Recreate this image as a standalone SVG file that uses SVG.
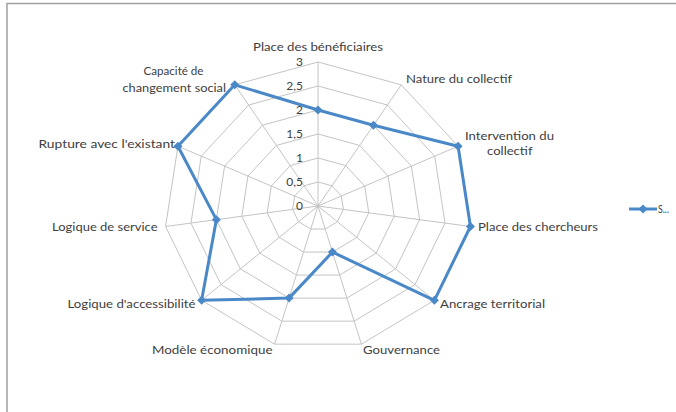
<svg xmlns="http://www.w3.org/2000/svg" xmlns:xlink="http://www.w3.org/1999/xlink" width="676" height="412" viewBox="0 0 676 412">
<style>
.lbl{font-family:Lato,"Liberation Sans",sans-serif;font-size:11.5px;fill:#404040}
.tick{font-family:Lato,"Liberation Sans",sans-serif;font-size:12px;fill:#404040;text-anchor:end}
.grid{fill:none;stroke:#c4c4c4;stroke-width:1;vector-effect:non-scaling-stroke}
.series{fill:none;stroke:#4a88c8;stroke-width:3;stroke-linejoin:round}
</style>
<defs>
<polygon id="ring" class="grid" points="0,-144 83.25,-121.15 140.08,-59.82 152.43,20.49 116.38,94.31 43.38,138.17 -43.38,138.17 -116.38,94.31 -152.43,20.49 -140.08,-59.82 -83.25,-121.15"/>
<marker id="dia" markerUnits="userSpaceOnUse" markerWidth="12" markerHeight="12" refX="6" refY="6" orient="0" overflow="visible">
<polygon points="6,1.5 10.5,6 6,10.5 1.5,6" fill="#4a88c8"/>
</marker>
</defs>
<rect x="0" y="0" width="676" height="412" fill="#ffffff"/>
<path d="M7,412 V3.5 H676" fill="none" stroke="#a0a0a0" stroke-width="1.5"/>
<g id="grid" transform="translate(318 206)">
<use xlink:href="#ring" transform="scale(0.16667)"/>
<use xlink:href="#ring" transform="scale(0.33333)"/>
<use xlink:href="#ring" transform="scale(0.5)"/>
<use xlink:href="#ring" transform="scale(0.66667)"/>
<use xlink:href="#ring" transform="scale(0.83333)"/>
<use xlink:href="#ring"/>
<path class="grid" d="M0,0 L0,-144 M0,0 L83.25,-121.15 M0,0 L140.08,-59.82 M0,0 L152.43,20.49 M0,0 L116.38,94.31 M0,0 L43.38,138.17 M0,0 L-43.38,138.17 M0,0 L-116.38,94.31 M0,0 L-152.43,20.49 M0,0 L-140.08,-59.82 M0,0 L-83.25,-121.15"/>
</g>
<g id="ticks">
<text class="tick" x="303" y="210">0</text>
<text class="tick" x="303" y="186">0,5</text>
<text class="tick" x="303" y="162">1</text>
<text class="tick" x="303" y="138">1,5</text>
<text class="tick" x="303" y="114">2</text>
<text class="tick" x="303" y="90">2,5</text>
<text class="tick" x="303" y="66">3</text>
</g>
<g id="labels">
<text class="lbl" x="253" y="51" textLength="130" lengthAdjust="spacingAndGlyphs">Place des bénéficiaires</text>
<text class="lbl" x="406" y="83" textLength="106" lengthAdjust="spacingAndGlyphs">Nature du collectif</text>
<text class="lbl" x="465" y="140" textLength="89" lengthAdjust="spacingAndGlyphs">Intervention du</text>
<text class="lbl" x="487" y="155" textLength="45.5" lengthAdjust="spacingAndGlyphs">collectif</text>
<text class="lbl" x="478" y="231" textLength="120" lengthAdjust="spacingAndGlyphs">Place des chercheurs</text>
<text class="lbl" x="440" y="308" textLength="105" lengthAdjust="spacingAndGlyphs">Ancrage territorial</text>
<text class="lbl" x="363" y="354" textLength="77" lengthAdjust="spacingAndGlyphs">Gouvernance</text>
<text class="lbl" x="152" y="354" textLength="120.5" lengthAdjust="spacingAndGlyphs">Modèle économique</text>
<text class="lbl" x="67.5" y="308" textLength="128" lengthAdjust="spacingAndGlyphs">Logique d'accessibilité</text>
<text class="lbl" x="52" y="231" textLength="105.5" lengthAdjust="spacingAndGlyphs">Logique de service</text>
<text class="lbl" x="38.5" y="148" textLength="136.5" lengthAdjust="spacingAndGlyphs">Rupture avec l'existant</text>
<text class="lbl" x="143.5" y="75" textLength="60" lengthAdjust="spacingAndGlyphs">Capacité de</text>
<text class="lbl" x="122.5" y="92" textLength="103.5" lengthAdjust="spacingAndGlyphs">changement social</text>
</g>
<g id="series">
<polygon class="series" marker-start="url(#dia)" marker-mid="url(#dia)" points="318,110 373.5,125.23 458.08,146.18 470.43,226.49 434.38,300.31 332.46,252.06 289.08,298.11 201.62,300.31 216.38,219.66 177.92,146.18 234.75,84.85"/>
</g>
<g id="legend">
<line x1="629" y1="209" x2="657" y2="209" stroke="#4a88c8" stroke-width="3"/>
<polygon points="643,204.5 647.5,209 643,213.5 638.5,209" fill="#4a88c8"/>
<text class="lbl" x="658" y="213" textLength="11" lengthAdjust="spacingAndGlyphs">S...</text>
</g>
</svg>
